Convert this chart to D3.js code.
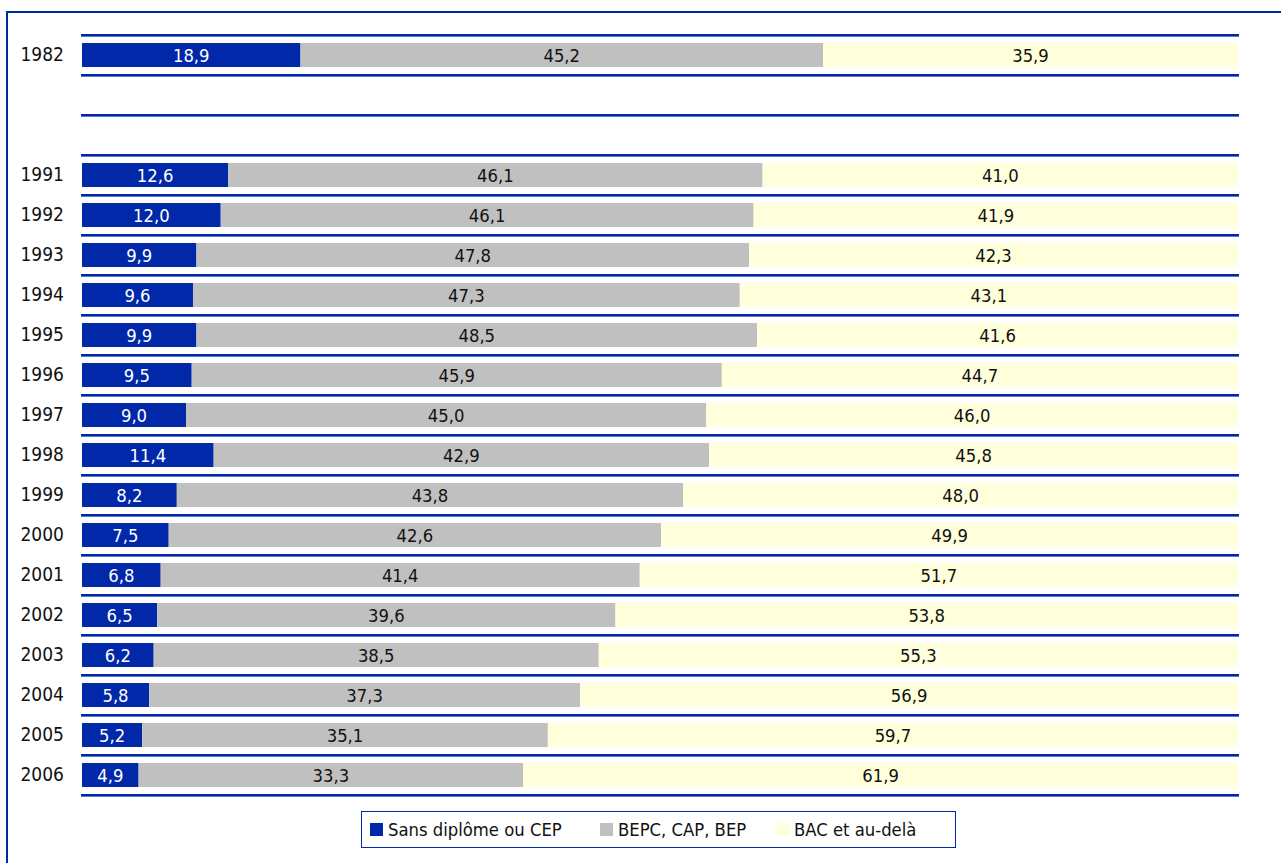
<!DOCTYPE html>
<html>
<head>
<meta charset="utf-8">
<script src="https://cdn.jsdelivr.net/npm/d3@7"></script>
<style>
  body { margin: 0; background: #fff; }
  svg text { font-family: 'DejaVu Sans Condensed', 'DejaVu Sans', sans-serif; font-stretch: condensed; font-size: 18.3px; }
</style>
</head>
<body>
<div id="chart"></div>
<script>
// rows, top to bottom (two empty slots between 1982 and 1991)
let years = ['1982', '', '', '1991', '1992', '1993', '1994', '1995', '1996', '1997',
  '1998', '1999', '2000', '2001', '2002', '2003', '2004', '2005', '2006']

let sansDiplome = [18.9, null, null, 12.6, 12.0, 9.9, 9.6, 9.9, 9.5, 9.0,
  11.4, 8.2, 7.5, 6.8, 6.5, 6.2, 5.8, 5.2, 4.9]
let bepcCapBep = [45.2, null, null, 46.1, 46.1, 47.8, 47.3, 48.5, 45.9, 45.0,
  42.9, 43.8, 42.6, 41.4, 39.6, 38.5, 37.3, 35.1, 33.3]
let bacEtPlus = [35.9, null, null, 41.0, 41.9, 42.3, 43.1, 41.6, 44.7, 46.0,
  45.8, 48.0, 49.9, 51.7, 53.8, 55.3, 56.9, 59.7, 61.9]

let seriesNames = ['Sans diplôme ou CEP', 'BEPC, CAP, BEP', 'BAC et au-delà']

let width = 1281
let height = 863
let blue = '#0028a8'

let svg = d3
  .select('#chart')
  .append('svg')
  .attr('width', width)
  .attr('height', height)

// outer frame (runs off the right and bottom edges)
svg
  .append('rect')
  .attr('x', 7)
  .attr('y', 12)
  .attr('width', width + 20)
  .attr('height', height + 20)
  .attr('fill', 'none')
  .attr('stroke', blue)
  .attr('stroke-width', 2)

let xPositionScale = d3.scaleLinear().domain([0, 100]).range([82, 1238])
let yPositionScale = d3
  .scaleBand()
  .domain(d3.range(years.length))
  .range([35, 795])
  .paddingInner(0.4)
  .paddingOuter(0.2)

let colorScale = d3
  .scaleOrdinal()
  .domain(['sans', 'bepc', 'bac'])
  .range([blue, '#c0c0c0', '#ffffdc'])

// one record per row, stacked to 100%
let rows = years.map((y, i) => ({
  idx: i,
  sans: sansDiplome[i],
  bepc: bepcCapBep[i],
  bac: bacEtPlus[i]
})).filter(d => d.sans !== null)

rows.forEach(d => {
  let total = d.sans + d.bepc + d.bac
  d.n_sans = d.sans / total * 100
  d.n_bepc = d.bepc / total * 100
  d.n_bac = d.bac / total * 100
})

let stack = d3.stack()
  .keys(['sans', 'bepc', 'bac'])
  .value((d, key) => d['n_' + key])

let stacked = stack(rows)

// separator lines between rows
let step = yPositionScale.step()
let boundaries = d3.range(years.length + 1).map(i => 35 + i * step)

svg
  .selectAll('.sep-dark')
  .data(boundaries)
  .enter()
  .append('line')
  .attr('class', 'sep-dark')
  .attr('x1', 81)
  .attr('x2', 1239)
  .attr('y1', d => d)
  .attr('y2', d => d)
  .attr('stroke', blue)
  .attr('stroke-width', 2)

svg
  .selectAll('.sep-light')
  .data(boundaries)
  .enter()
  .append('line')
  .attr('class', 'sep-light')
  .attr('x1', 81)
  .attr('x2', 1239)
  .attr('y1', d => d + 1.5)
  .attr('y2', d => d + 1.5)
  .attr('stroke', '#5a78cc')
  .attr('stroke-width', 1)

let layers = svg
  .selectAll('.layer')
  .data(stacked)
  .enter()
  .append('g')
  .attr('class', 'layer')
  .attr('fill', d => colorScale(d.key))

layers
  .selectAll('rect')
  .data(d => d)
  .enter()
  .append('rect')
  .attr('x', d => xPositionScale(d[0]))
  .attr('y', d => yPositionScale(d.data.idx))
  .attr('width', d => xPositionScale(d[1]) - xPositionScale(d[0]))
  .attr('height', yPositionScale.bandwidth())

layers.each(function(layer) {
  d3.select(this)
    .selectAll('text')
    .data(layer)
    .enter()
    .append('text')
    .attr('x', d => (xPositionScale(d[0]) + xPositionScale(d[1])) / 2)
    .attr('y', d => yPositionScale(d.data.idx) + yPositionScale.bandwidth() / 2)
    .attr('dy', '0.36em')
    .attr('text-anchor', 'middle')
    .attr('fill', layer.key === 'sans' ? '#ffffff' : '#111111')
    .text(d => d3.format('.1f')(d.data[layer.key]).replace('.', ','))
})

// year labels
let yAxis = d3
  .axisLeft(yPositionScale)
  .tickSize(0)
  .tickPadding(0)
  .tickFormat(i => years[i])

svg
  .append('g')
  .attr('class', 'axis y-axis')
  .attr('transform', 'translate(64,0)')
  .call(yAxis)
  .call(g => g.select('.domain').remove())
  .call(g => g.selectAll('text')
    .attr('fill', '#111')
    .style('font-size', '19px')
    .style('font-family', "'DejaVu Sans Condensed', 'DejaVu Sans', sans-serif"))

// legend
let legend = svg.append('g').attr('class', 'legend')

legend
  .append('rect')
  .attr('x', 361.5)
  .attr('y', 811.5)
  .attr('width', 594)
  .attr('height', 36)
  .attr('fill', '#fff')
  .attr('stroke', blue)
  .attr('stroke-width', 1)

let legendX = [370, 600, 776]

let items = legend
  .selectAll('.item')
  .data(colorScale.domain())
  .enter()
  .append('g')
  .attr('class', 'item')
  .attr('transform', (d, i) => 'translate(' + legendX[i] + ',823)')

items
  .append('rect')
  .attr('width', 13)
  .attr('height', 13)
  .attr('fill', d => colorScale(d))

items
  .append('text')
  .attr('x', 18)
  .attr('y', 6.5)
  .attr('dy', '0.36em')
  .attr('fill', '#111')
  .text((d, i) => seriesNames[i])
</script>
</body>
</html>
